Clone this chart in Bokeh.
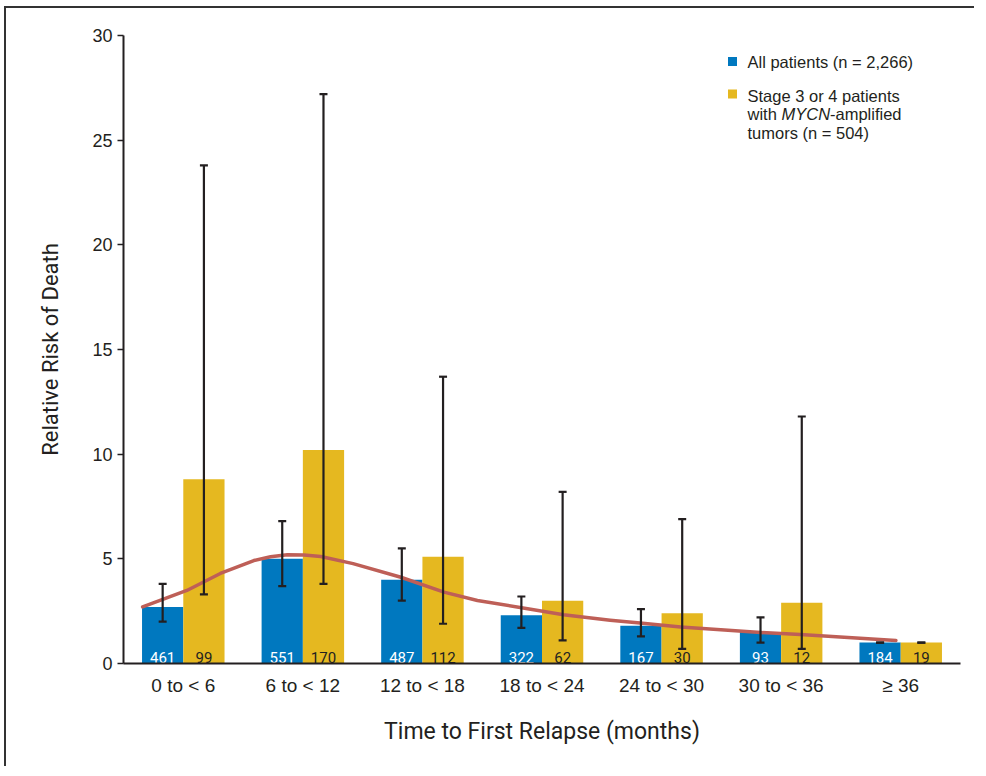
from bokeh.plotting import figure
from bokeh.models import (ColumnDataSource, Whisker, TeeHead, FixedTicker,
                          Range1d)
from bokeh.core.properties import value
from bokeh.embed import file_html
from bokeh.resources import INLINE

# ---------------- data ----------------
categories = ["0 to < 6", "6 to < 12", "12 to < 18", "18 to < 24",
              "24 to < 30", "30 to < 36", "\u2265 36"]
all_rr = [2.7, 5.0, 4.0, 2.3, 1.8, 1.5, 1.0]
all_lo = [2.0, 3.7, 3.0, 1.7, 1.3, 1.0, 1.0]
all_hi = [3.8, 6.8, 5.5, 3.2, 2.6, 2.2, 1.0]
all_n = [461, 551, 487, 322, 167, 93, 184]
mycn_rr = [8.8, 10.2, 5.1, 3.0, 2.4, 2.9, 1.0]
mycn_lo = [3.3, 3.8, 1.9, 1.1, 0.7, 0.7, 1.0]
mycn_hi = [23.8, 27.2, 13.7, 8.2, 6.9, 11.8, 1.0]
mycn_n = [99, 170, 112, 62, 30, 12, 19]
# fitted trend curve (category units, relative risk)
trend_x = [0.16, 0.53, 0.81, 1.09, 1.23, 1.37, 1.51, 1.65, 1.92, 2.32,
           2.68, 2.96, 3.38, 3.68, 4.07, 4.32, 4.66, 5.33, 5.66, 6.46]
trend_y = [2.70, 3.49, 4.30, 4.92, 5.10, 5.20, 5.18, 5.11, 4.77, 4.12,
           3.41, 3.01, 2.62, 2.33, 2.07, 1.93, 1.74, 1.48, 1.38, 1.10]
y_ticks = [0, 5, 10, 15, 20, 25, 30]

BLUE = "#0078BF"
YELLOW = "#E5B820"
RED = "#BE5F57"
INK = "#231F20"
NARROW = "Liberation Sans Narrow, Roboto"
SANS = "Liberation Sans"

# canvas origin sits at (6, 8) of the page (room for the picture frame)
OX, OY = 6, 8
W, H = 970, 760
n = len(categories)
BW = 0.345
centers = [i + 0.5 for i in range(n)]
xb = [c - BW / 2 for c in centers]
xy = [c + BW / 2 for c in centers]

src_a = ColumnDataSource(dict(x=xb, top=all_rr, lo=all_lo, hi=all_hi,
                              lab=[str(v) for v in all_n]))
src_m = ColumnDataSource(dict(x=xy, top=mycn_rr, lo=mycn_lo, hi=mycn_hi,
                              lab=[str(v) for v in mycn_n]))

p = figure(width=W, height=H, output_backend="svg", toolbar_location=None,
           x_range=Range1d(0, n), y_range=Range1d(0, 30),
           min_border_left=123 - OX, min_border_right=W - (960 - OX),
           min_border_top=35 - OY, min_border_bottom=H - (663 - OY))
p.styles = {"position": "relative", "left": "%dpx" % OX,
            "top": "%dpx" % OY,
            "box-shadow": "-2px -2px 0px 0px #333333"}
p.outline_line_color = None
p.xgrid.grid_line_color = None
p.ygrid.grid_line_color = None
p.background_fill_color = "white"
p.border_fill_color = "white"

p.vbar(x="x", top="top", width=BW, bottom=0, source=src_a,
       fill_color=BLUE, line_color=None)
p.vbar(x="x", top="top", width=BW, bottom=0, source=src_m,
       fill_color=YELLOW, line_color=None)

p.line(trend_x, trend_y, line_color=RED, line_width=3.5, line_join="round",
       line_cap="round")

for src in (src_a, src_m):
    w = Whisker(source=src, base="x", upper="hi", lower="lo",
                line_color=INK, line_width=2.2, level="overlay",
                upper_head=TeeHead(size=8, line_color=INK, line_width=2.2),
                lower_head=TeeHead(size=8, line_color=INK, line_width=2.2))
    p.add_layout(w)

p.text(x="x", y=0, text="lab", source=src_a, text_align="center",
       text_baseline="bottom", y_offset=-1, text_color="white",
       text_font=value(NARROW), text_font_size="15px")
p.text(x="x", y=0, text="lab", source=src_m, text_align="center",
       text_baseline="bottom", y_offset=-1, text_color=INK,
       text_font=value(NARROW), text_font_size="15px")

# axes
xa = p.xaxis[0]
xa.ticker = FixedTicker(ticks=centers)
xa.major_label_overrides = {c: lab for c, lab in zip(centers, categories)}
xa.major_tick_line_color = None
xa.minor_tick_line_color = None
xa.axis_line_color = INK
xa.axis_line_width = 2
xa.major_label_text_font = SANS
xa.major_label_text_font_size = "19px"
xa.major_label_text_color = INK
xa.major_label_standoff = 5
xa.axis_label = "Time to First Relapse (months)"
xa.axis_label_text_font = "Roboto"
xa.axis_label_text_font_size = "23px"
xa.axis_label_text_font_style = "normal"
xa.axis_label_text_color = INK
xa.axis_label_standoff = 19

ya = p.yaxis[0]
ya.ticker = FixedTicker(ticks=y_ticks)
ya.minor_tick_line_color = None
ya.major_tick_in = 0
ya.major_tick_out = 6
ya.major_tick_line_color = INK
ya.major_tick_line_width = 1.5
ya.axis_line_color = INK
ya.axis_line_width = 2
ya.major_label_text_font = SANS
ya.major_label_text_font_size = "18px"
ya.major_label_text_color = INK
ya.major_label_standoff = 5
ya.axis_label = "Relative Risk of Death"
ya.axis_label_text_font = "Roboto"
ya.axis_label_text_font_size = "22px"
ya.axis_label_text_font_style = "normal"
ya.axis_label_text_color = INK
ya.axis_label_standoff = 26

# ---------------- legend (drawn by hand, for the italic gene name) -------
FRAME_L, FRAME_B = 123.0, 663.0
PX_X = (960.0 - 123.0) / n
PX_Y = (663.0 - 35.0) / 30.0


def dx(px):
    return (px - FRAME_L) / PX_X


def dy(py):
    return (FRAME_B - py) / PX_Y


p.rect(x=[dx(732), dx(732)], y=[dy(61), dy(93.5)], width=9, height=9,
       width_units="screen", height_units="screen",
       fill_color=[BLUE, YELLOW], line_color=None)

leg_font = "16.5px"
for txt, px, py, style in [
        ("All patients (n = 2,266)", 747, 61, "normal"),
        ("Stage 3 or 4 patients", 747, 95, "normal"),
        ("with ", 747, 113, "normal"),
        ("MYCN", 781, 113, "italic"),
        ("-amplified", 829.5, 113, "normal"),
        ("tumors (n = 504)", 747, 132, "normal")]:
    p.text(x=[dx(px)], y=[dy(py)], text=[txt], text_font=value(SANS),
           text_font_size=leg_font, text_font_style=style,
           text_baseline="middle", text_align="left", text_color=INK)

open("out.html", "w").write(file_html(p, INLINE))
